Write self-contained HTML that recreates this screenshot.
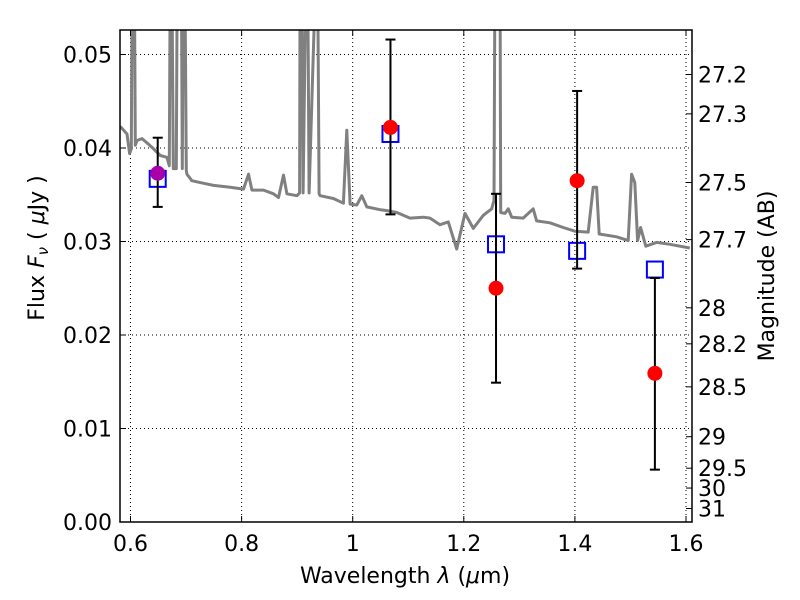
<!DOCTYPE html>
<html><head><meta charset="utf-8"><style>
body{margin:0;background:#fff}
svg{display:block;font-family:"DejaVu Sans","Liberation Sans",sans-serif}
</style></head><body>
<svg id="chart" width="800" height="600" viewBox="0 0 800 600" xmlns="http://www.w3.org/2000/svg">
<rect width="800" height="600" fill="#fff"/>
<defs><clipPath id="plotclip"><rect x="120" y="30" width="572" height="492"/></clipPath></defs>
<g id="grid"></g>
<g id="series" clip-path="url(#plotclip)"></g>
<g id="axes"></g>
<text x="405" y="583" font-size="22" text-anchor="middle">Wavelength  <tspan font-style="italic">λ</tspan> (<tspan font-style="italic">μ</tspan>m)</text>
<text transform="translate(44,248) rotate(-90)" font-size="22" text-anchor="middle">Flux  <tspan font-style="italic">F</tspan><tspan font-style="italic" font-size="15" dy="4">ν</tspan><tspan dy="-4">  (  </tspan><tspan font-style="italic">μ</tspan>Jy )</text>
<text transform="translate(774,276) rotate(-90)" font-size="22" text-anchor="middle">Magnitude (AB)</text>
</svg>
<script>
const specWave=[0.5817,0.5937,0.5984,0.6014,0.6032,0.6068,0.6086,0.6117,0.6207,0.6326,0.6415,0.6536,0.6656,0.6698,0.6716,0.6743,0.6770,0.6824,0.6842,0.6914,0.6932,0.6950,0.6977,0.7004,0.7016,0.7106,0.7255,0.7495,0.7795,0.8034,0.8124,0.8185,0.8394,0.8574,0.8664,0.8754,0.8815,0.8995,0.9045,0.9054,0.9081,0.9108,0.9162,0.9189,0.9216,0.9342,0.9369,0.9396,0.9414,0.9653,0.9833,0.9894,0.9953,1.0074,1.0164,1.0254,1.0493,1.0613,1.0793,1.1032,1.1272,1.1392,1.1572,1.1721,1.1872,1.2022,1.2171,1.2351,1.2502,1.2543,1.2561,1.2651,1.2664,1.2741,1.2801,1.2862,1.3070,1.3250,1.3311,1.3550,1.3790,1.4000,1.4239,1.4329,1.4390,1.4437,1.4750,1.4959,1.5020,1.5079,1.5128,1.5182,1.5277,1.5470,1.5709,1.6068];
const specFlux=[0.0423,0.0415,0.0394,0.0399,0.06,0.06,0.0403,0.0408,0.0410,0.0404,0.0399,0.0392,0.0390,0.0381,0.06,0.06,0.0378,0.0378,0.06,0.06,0.0378,0.06,0.06,0.0376,0.0372,0.0365,0.0363,0.0360,0.0358,0.0356,0.0372,0.0355,0.0355,0.0351,0.0347,0.0371,0.0351,0.0349,0.0352,0.06,0.06,0.0352,0.06,0.06,0.0352,0.06,0.06,0.0351,0.0349,0.0346,0.0341,0.0419,0.0340,0.0339,0.0349,0.0337,0.0334,0.0333,0.0331,0.0325,0.0326,0.0325,0.0318,0.0321,0.0292,0.0330,0.0314,0.0328,0.0335,0.0344,0.06,0.06,0.0331,0.0330,0.0335,0.0326,0.0325,0.0335,0.0322,0.0320,0.0315,0.0311,0.0310,0.0358,0.0358,0.0308,0.0305,0.0301,0.0372,0.0363,0.0301,0.0315,0.0295,0.0299,0.0297,0.0293];
const bandWave=[0.649,1.068,1.258,1.404,1.544];
const modelFlux=[0.0367,0.0415,0.0297,0.0290,0.0270];
const obsFlux=[0.0373,0.0422,0.0250,0.0365,0.0159];
const errLow=[0.0337,0.0329,0.0149,0.0271,0.0056];
const errHigh=[0.0411,0.0516,0.0351,0.0461,0.0261];
const xTicks=[0.6,0.8,1.0,1.2,1.4,1.6];
const xTickLabels=["0.6","0.8","1","1.2","1.4","1.6"];
const yTicks=[0,0.01,0.02,0.03,0.04,0.05];
const yTickLabels=["0.00","0.01","0.02","0.03","0.04","0.05"];
const magTicks=[27.2,27.3,27.5,27.7,28,28.2,28.5,29,29.5,30,31];
const magLabels=["27.2","27.3","27.5","27.7","28","28.2","28.5","29","29.5","30","31"];

const L=120,R=692,T=30,B=522;
const xMin=0.5811,xMax=1.6108,yMin=0,yMax=0.05262;
const X=v=>L+(v-xMin)/(xMax-xMin)*(R-L);
const Y=v=>B-(v-yMin)/(yMax-yMin)*(B-T);
const NS="http://www.w3.org/2000/svg";
function mk(parent,tag,attrs){const e=document.createElementNS(NS,tag);for(const k in attrs)e.setAttribute(k,attrs[k]);parent.appendChild(e);return e;}
const grid=document.getElementById('grid'),series=document.getElementById('series'),axes=document.getElementById('axes');

xTicks.forEach((t,i)=>{
  const g=mk(grid,'line',{x1:X(t),x2:X(t),y1:T,y2:B,stroke:'#000','stroke-width':1,'stroke-dasharray':'1,3'});
  
  
  mk(axes,'line',{x1:X(t),x2:X(t),y1:B,y2:B-6,stroke:'#000','stroke-width':1});
  mk(axes,'line',{x1:X(t),x2:X(t),y1:T,y2:T+6,stroke:'#000','stroke-width':1});
  const tx=mk(axes,'text',{x:X(t),y:B+29,'font-size':22,'text-anchor':'middle'});
  tx.textContent=xTickLabels[i];
  
  
});
yTicks.forEach((t,i)=>{
  const g=mk(grid,'line',{x1:L,x2:R,y1:Y(t),y2:Y(t),stroke:'#000','stroke-width':1,'stroke-dasharray':'1,3'});
  
  
  mk(axes,'line',{x1:L,x2:L+6,y1:Y(t),y2:Y(t),stroke:'#000','stroke-width':1});
  const tx=mk(axes,'text',{x:L-8,y:Y(t)+8,'font-size':22,'text-anchor':'end'});
  tx.textContent=yTickLabels[i];
  
  
});
magTicks.forEach((m,i)=>{
  const f=Math.pow(10,(23.9-m)/2.5);
  const y=Y(f);
  mk(axes,'line',{x1:R,x2:R-6,y1:y,y2:y,stroke:'#000','stroke-width':1});
  const tx=mk(axes,'text',{x:R+6,y:y+8,'font-size':22,'text-anchor':'start'});
  tx.textContent=magLabels[i];
  
  
});

const pts=specWave.map((w,i)=>X(w).toFixed(1)+','+Y(specFlux[i]).toFixed(1)).join(' ');
const spec=mk(series,'polyline',{points:pts,fill:'none',stroke:'#808080','stroke-width':3,'stroke-linejoin':'round'});



bandWave.forEach((w,i)=>{
  const cx=X(w);
  const sq=mk(series,'rect',{x:cx-8,y:Y(modelFlux[i])-8,width:16,height:16,fill:'none',stroke:'#0000ff','stroke-width':2});
  
  
  const eb=mk(series,'g',{stroke:'#000','stroke-width':2});
  
  
  mk(eb,'line',{x1:cx,x2:cx,y1:Y(errLow[i]),y2:Y(errHigh[i])});
  mk(eb,'line',{x1:cx-5,x2:cx+5,y1:Y(errLow[i]),y2:Y(errLow[i])});
  mk(eb,'line',{x1:cx-5,x2:cx+5,y1:Y(errHigh[i]),y2:Y(errHigh[i])});
  const c=mk(series,'circle',{cx:cx,cy:Y(obsFlux[i]),r:7.5,fill:i===0?'#aa00aa':'#ff0000'});
  
  
});
const fr=mk(axes,'rect',{x:L,y:T,width:R-L,height:B-T,fill:'none',stroke:'#000','stroke-width':1.5});


</script>
</body></html>
